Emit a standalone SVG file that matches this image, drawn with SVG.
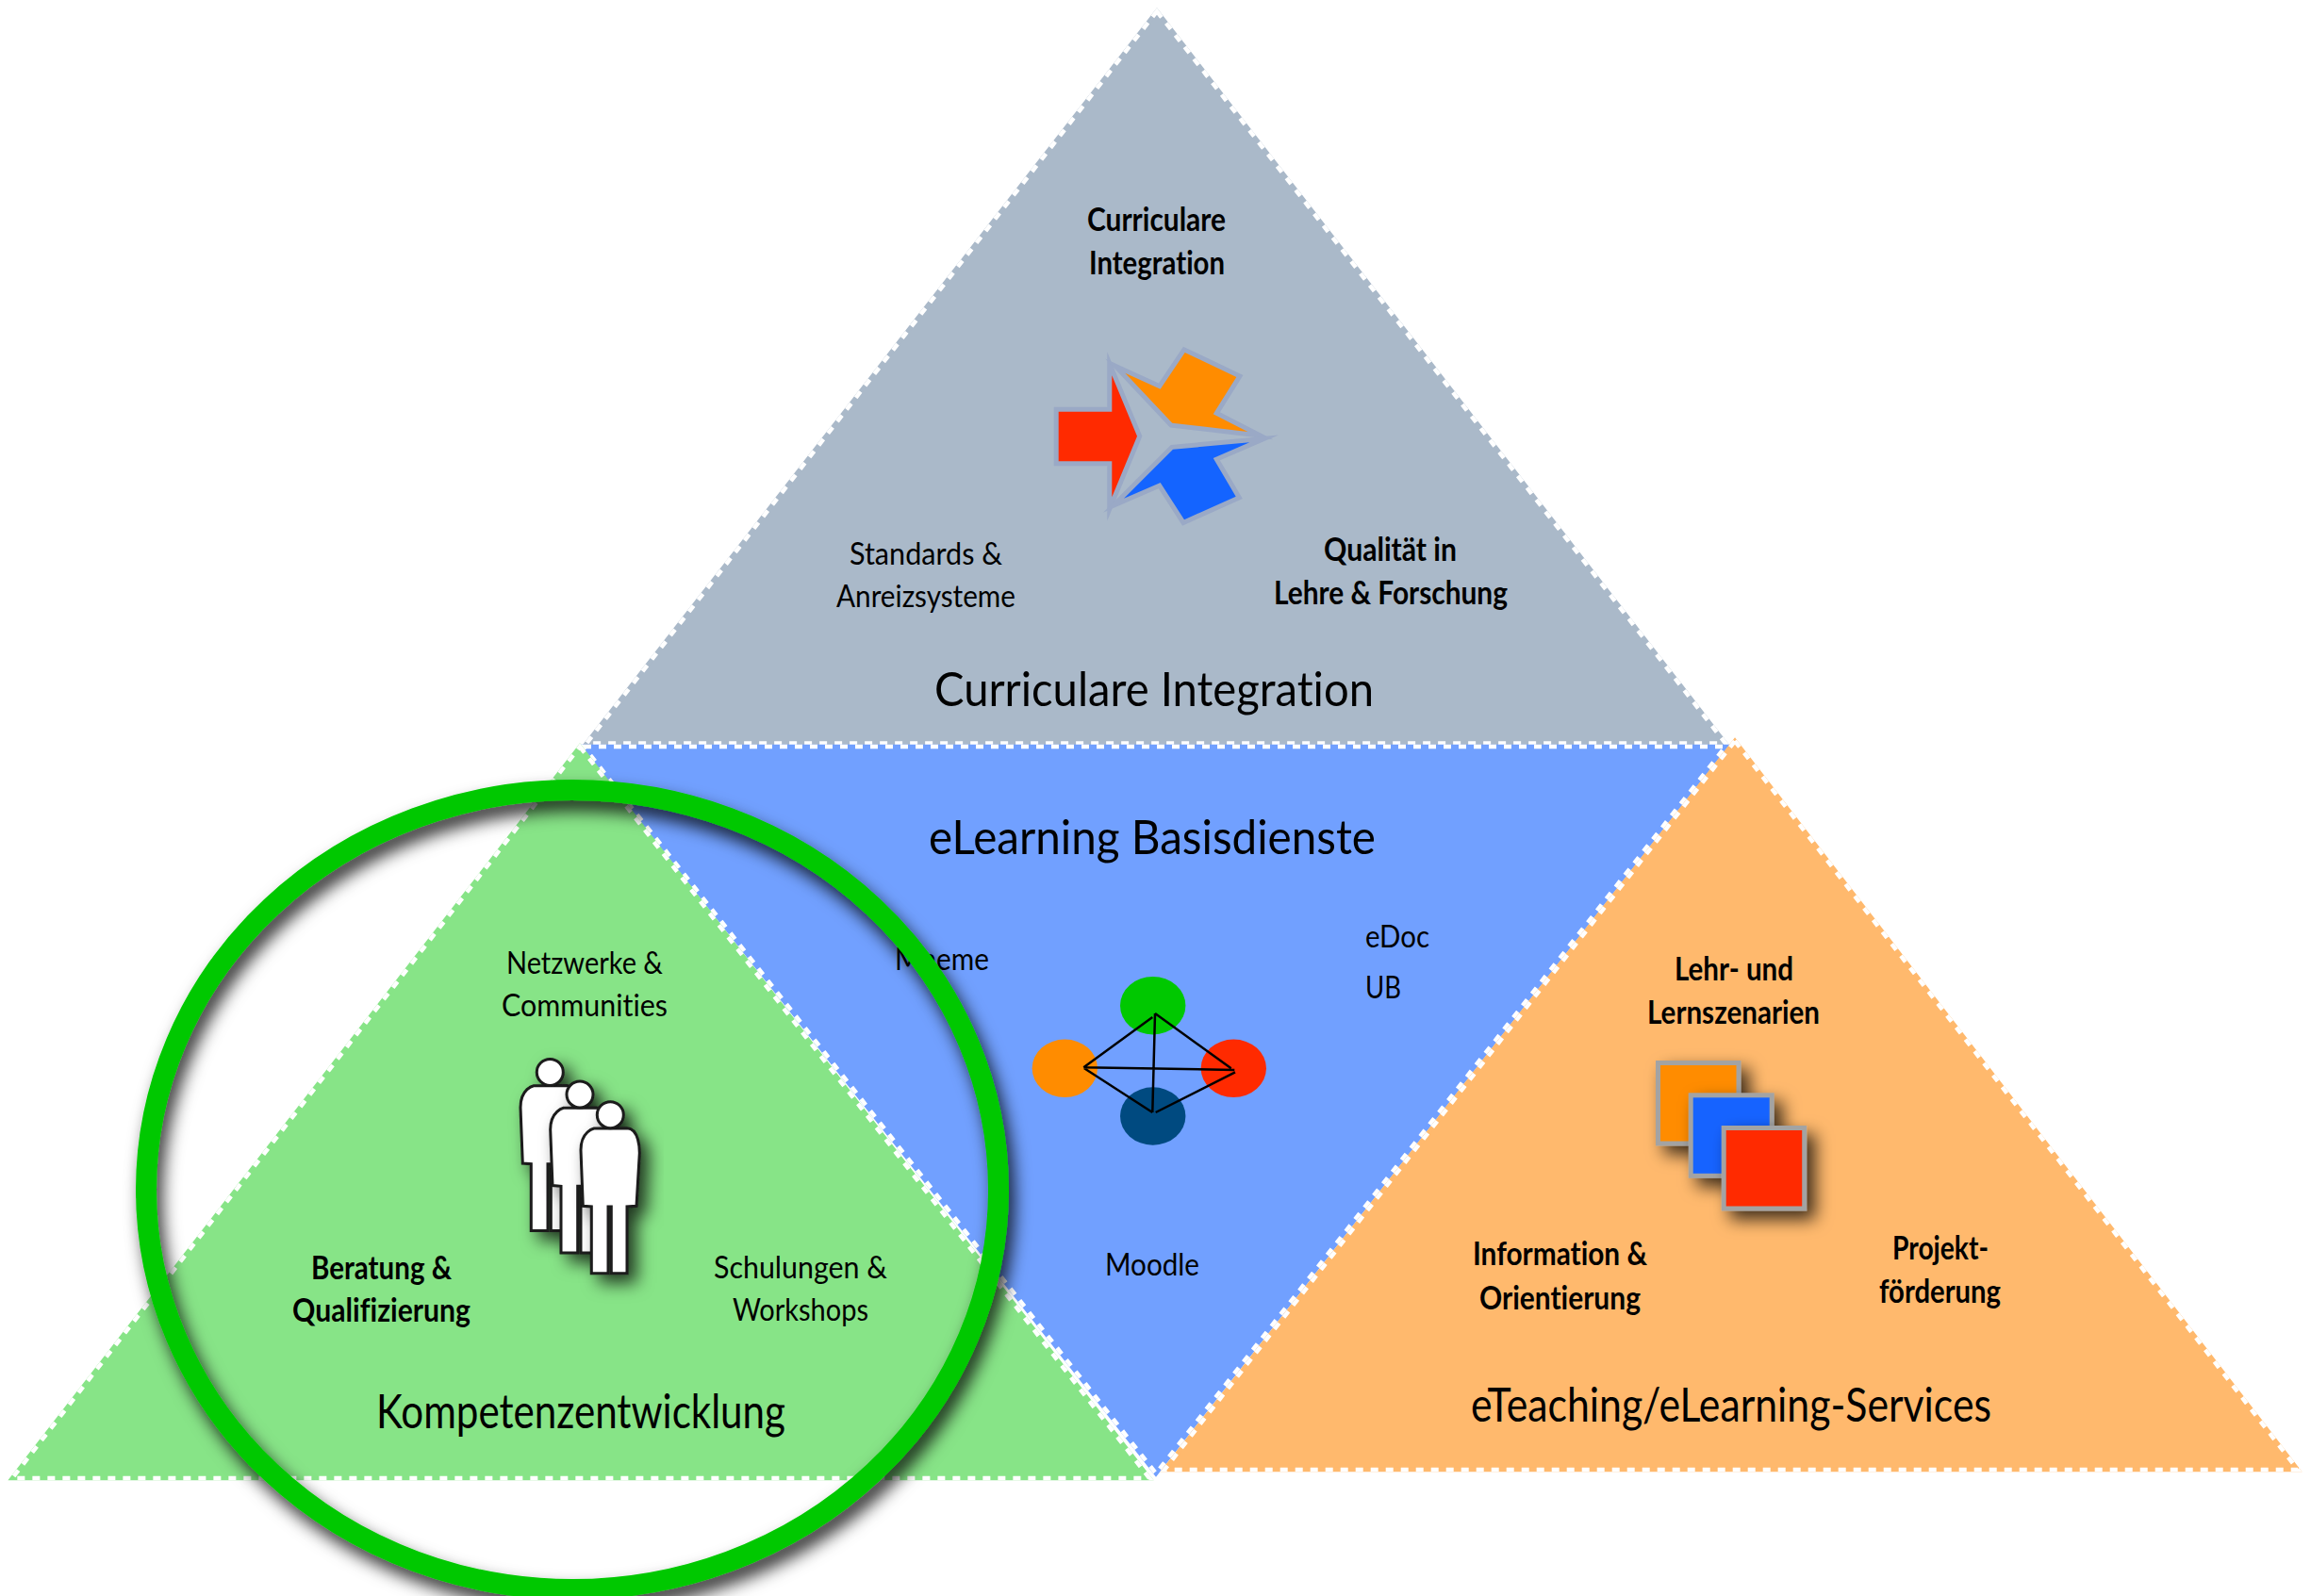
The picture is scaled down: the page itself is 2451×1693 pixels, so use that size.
<svg xmlns="http://www.w3.org/2000/svg" width="2451" height="1693" viewBox="0 0 2451 1693">
<style>
text{font-family:"Lato","Noto Sans",sans-serif;fill:#000;font-variant-ligatures:none}
.s{font-size:33.500px}
.b{font-size:33.500px;font-weight:700}
.l{font-size:50px}
.edge{fill:none;stroke:#fff;stroke-width:4.500;stroke-dasharray:8 8}
.logo{stroke:#9aa9c6;stroke-width:10;paint-order:stroke;stroke-linejoin:miter;stroke-miterlimit:9}
.sq{stroke:#a3a3a3;stroke-width:5;filter:url(#sh)}
.pp{fill:#fff;stroke:#1a1a1a;stroke-width:3;filter:url(#sh)}
.ln{stroke:#000;stroke-width:2.500;fill:none}
</style>
<defs>
<filter id="sh" x="-30%" y="-30%" width="170%" height="170%"><feDropShadow dx="9" dy="9" stdDeviation="9" flood-color="#000" flood-opacity=".75"/></filter>
<filter id="sh2" x="-5%" y="-5%" width="110%" height="110%"><feDropShadow dx="6" dy="11" stdDeviation="9" flood-color="#000" flood-opacity=".8"/></filter>
<g id="person">
<path d="M618.300 1279.300 L616 1220 C616 1200 630 1197 630 1197 Q640 1196.700 665 1196.700 C678 1197 678.300 1220 678.300 1223 L675 1279.300 L665 1280 V1350.700 H648.300 V1280 H645 V1350.700 H627.300 V1280 Z"/>
<circle cx="647.300" cy="1182.700" r="14"/>
</g>
</defs>
<g id="triangles">
<g id="tri-curricular"><polygon points="1227,12 1830,788.500 622,788.500" fill="#aab9c9" stroke="#aab9c9" stroke-width="4.500"/><polygon class="edge" points="1227,12 1830,788.500 622,788.500"/></g>
<g id="tri-basis"><polygon points="619,792 1830,792 1226,1563" fill="#71a0ff" stroke="#71a0ff" stroke-width="4.500"/><polygon class="edge" points="619,792 1830,792 1226,1563"/></g>
<g id="tri-services"><polygon points="1840,786 2437,1559 1235,1559" fill="#ffb96d" stroke="#ffb96d" stroke-width="4.500"/><polygon class="edge" points="1840,786 2437,1559 1235,1559"/></g>
<g id="tri-kompetenz"><polygon points="615,792 1219,1568 13,1568" fill="#87e487" stroke="#87e487" stroke-width="4.500"/><polygon class="edge" points="615,792 1219,1568 13,1568"/></g>
</g>
<g id="logo">
<polygon class="logo" fill="#ff2a00" points="1122.700,436.700 1179.300,436.700 1179.300,398.300 1206,462.700 1179.300,527.300 1179.300,489.300 1122.700,489.300"/>
<polygon class="logo" fill="#ff8c00" points="1193.300,395.700 1230.700,412.700 1256.700,374 1311.300,400 1286.700,439.300 1323.300,458 1243.300,448.700"/>
<polygon class="logo" fill="#1464ff" points="1192,528.700 1230.700,512 1256,551.300 1310.700,526.700 1286.700,486 1325.300,469.300 1244,476.700"/>
</g>
<g id="network">
<ellipse cx="1222.700" cy="1066.700" rx="34.700" ry="30.700" fill="#00c800"/>
<ellipse cx="1129.300" cy="1133.300" rx="34.700" ry="30.700" fill="#ff8c00"/>
<ellipse cx="1308.300" cy="1133.300" rx="34.700" ry="30.700" fill="#ff2a00"/>
<ellipse cx="1222.700" cy="1184" rx="34.700" ry="30.700" fill="#004a80"/>
<path class="ln" d="M1149.300 1132.300 L1222.300 1079 M1225 1075 L1305.700 1133.300 M1225 1075 L1222.300 1180 M1149.300 1132.300 L1309.300 1135 M1150 1133.300 L1222.300 1180 M1225.700 1180 L1310 1137.300"/>
</g>
<g id="squares">
<rect class="sq" x="1758.500" y="1127.500" width="85.500" height="85.500" fill="#ff8c00"/>
<rect class="sq" x="1793.200" y="1161.800" width="86" height="85.500" fill="#1464ff"/>
<rect class="sq" x="1828.200" y="1196.500" width="85.500" height="85.500" fill="#ff2a00"/>
</g>
<g id="people">
<use href="#person" class="pp" transform="translate(-64,-45.300)"/>
<use href="#person" class="pp" transform="translate(-32.300,-21.700)"/>
<use href="#person" class="pp"/>
</g>
<g id="labels">
<text class="b" x="1153" y="245" textLength="147" lengthAdjust="spacingAndGlyphs">Curriculare</text>
<text class="b" x="1155" y="291" textLength="144" lengthAdjust="spacingAndGlyphs">Integration</text>
<text class="s" x="901" y="599" textLength="162" lengthAdjust="spacingAndGlyphs">Standards &amp;</text>
<text class="s" x="887" y="644" textLength="190" lengthAdjust="spacingAndGlyphs">Anreizsysteme</text>
<text class="b" x="1404" y="595" textLength="141" lengthAdjust="spacingAndGlyphs">Qualität in</text>
<text class="b" x="1351" y="641" textLength="248" lengthAdjust="spacingAndGlyphs">Lehre &amp; Forschung</text>
<text class="l" x="991" y="749" textLength="466" lengthAdjust="spacingAndGlyphs">Curriculare Integration</text>
<text class="l" x="985" y="906" textLength="474" lengthAdjust="spacingAndGlyphs">eLearning Basisdienste</text>
<text class="s" x="949" y="1029" textLength="100" lengthAdjust="spacingAndGlyphs">Mneme</text>
<text class="s" x="1448" y="1005" textLength="68" lengthAdjust="spacingAndGlyphs">eDoc</text>
<text class="s" x="1448" y="1059" textLength="38" lengthAdjust="spacingAndGlyphs">UB</text>
<text class="s" x="1172" y="1353" textLength="100" lengthAdjust="spacingAndGlyphs">Moodle</text>
<text class="b" x="1776" y="1040" textLength="126" lengthAdjust="spacingAndGlyphs">Lehr- und</text>
<text class="b" x="1747" y="1086" textLength="183" lengthAdjust="spacingAndGlyphs">Lernszenarien</text>
<text class="b" x="1562" y="1342" textLength="185" lengthAdjust="spacingAndGlyphs">Information &amp;</text>
<text class="b" x="1569" y="1389" textLength="171" lengthAdjust="spacingAndGlyphs">Orientierung</text>
<text class="b" x="2007" y="1336" textLength="102" lengthAdjust="spacingAndGlyphs">Projekt-</text>
<text class="b" x="1993" y="1382" textLength="129" lengthAdjust="spacingAndGlyphs">förderung</text>
<text class="l" x="1560" y="1508" textLength="552" lengthAdjust="spacingAndGlyphs">eTeaching/eLearning-Services</text>
<text class="s" x="537" y="1033" textLength="166" lengthAdjust="spacingAndGlyphs">Netzwerke &amp;</text>
<text class="s" x="532" y="1078" textLength="176" lengthAdjust="spacingAndGlyphs">Communities</text>
<text class="b" x="330" y="1357" textLength="149" lengthAdjust="spacingAndGlyphs">Beratung &amp;</text>
<text class="b" x="310" y="1402" textLength="189" lengthAdjust="spacingAndGlyphs">Qualifizierung</text>
<text class="s" x="757" y="1356" textLength="184" lengthAdjust="spacingAndGlyphs">Schulungen &amp;</text>
<text class="s" x="777" y="1401" textLength="144" lengthAdjust="spacingAndGlyphs">Workshops</text>
<text class="l" x="399" y="1515" textLength="434" lengthAdjust="spacingAndGlyphs">Kompetenzentwicklung</text>
</g>
<g id="connectors"><ellipse id="ring" cx="607" cy="1262" rx="452" ry="424" fill="none" stroke="#00c800" stroke-width="22" filter="url(#sh2)"/></g>
</svg>
